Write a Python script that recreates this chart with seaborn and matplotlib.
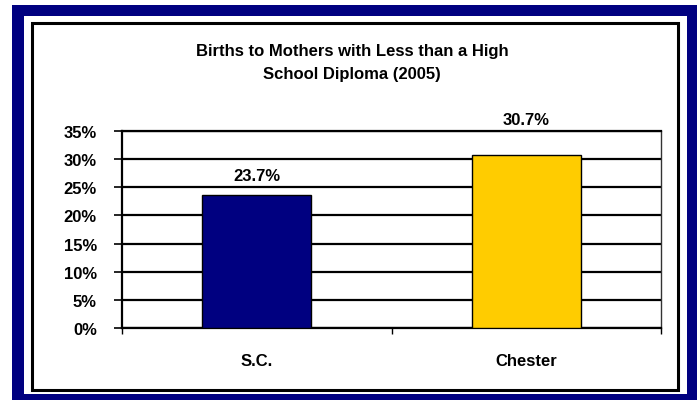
import numpy as np
import matplotlib.pyplot as plt
import matplotlib.patches as mpatches
import seaborn as sns

# Datos
categorias = ["S.C.", "Chester"]
valores = [23.7, 30.7]
colores = ["#000080", "#FFCC00"]
ticks_y = [0, 5, 10, 15, 20, 25, 30, 35]
titulo = "Births to Mothers with Less than a High\nSchool Diploma (2005)"

W, H = 699, 402
sns.set_style("white")
plt.rcParams['font.family'] = ['Liberation Sans', 'DejaVu Sans']
plt.rcParams['text.color'] = 'black'
plt.rcParams['xtick.color'] = 'black'
plt.rcParams['ytick.color'] = 'black'

fig = plt.figure(figsize=(W / 100, H / 100), dpi=100)

def caja(x0, y0, x1, y1, **kw):
    # rectangulo en pixeles (origen arriba a la izquierda)
    return mpatches.Rectangle((x0 / W, 1 - y1 / H), (x1 - x0) / W, (y1 - y0) / H,
                              transform=fig.transFigure, **kw)

# Marco azul, fondo blanco y borde negro
fig.patches.append(caja(12, 6, 697, 401, facecolor="#000080", edgecolor="none", zorder=-3))
fig.patches.append(caja(24, 17, 687, 395, facecolor="white", edgecolor="none", zorder=-2))
fig.patches.append(caja(32, 24, 678, 391, facecolor="none", edgecolor="black", linewidth=2.2, zorder=-1))

ax = fig.add_axes([122 / W, 1 - 329 / H, (661 - 122) / W, (329 - 132) / H])
ax.set_zorder(5)
ax.set_facecolor("white")

sns.barplot(x=categorias, y=valores, hue=categorias, palette=colores, legend=False, saturation=1,
            width=0.405, edgecolor="black", linewidth=1, ax=ax, zorder=3)

ax.set_ylim(0, 35)
ax.set_xlim(-0.5, 1.5)
ax.set_yticks(ticks_y)
ax.set_yticklabels([f"{t}%" for t in ticks_y], fontsize=12, fontweight="bold")
ax.yaxis.grid(True, color="black", linewidth=1.6)
ax.set_axisbelow(True)

# Etiquetas de valores
desplaz = [14, 26]
for i, v in enumerate(valores):
    ax.annotate(f"{v:.1f}%", (i, v), xytext=(0, desplaz[i]), textcoords="offset points",
                ha="center", va="center", fontsize=12, fontweight="bold", annotation_clip=False)

# Ejes
ax.tick_params(axis="y", which="major", left=True, direction="out", length=6, width=1.2,
               color="black", pad=12)
ax.set_xticks(range(len(categorias)))
ax.set_xticklabels(categorias, fontsize=12, fontweight="bold")
ax.set_xticks([-0.5, 0.5, 1.5], minor=True)
ax.tick_params(axis="x", which="major", length=0, pad=18)
ax.tick_params(axis="x", which="minor", bottom=True, direction="out", length=4, width=1, color="black")
ax.set_xlabel("")
ax.set_ylabel("")
for s in ["left", "bottom", "top"]:
    ax.spines[s].set_color("black")
    ax.spines[s].set_linewidth(1.6)
ax.spines["right"].set_color("#333333")
ax.spines["right"].set_linewidth(1)

fig.text(352 / W, 1 - 63 / H, titulo, ha="center", va="center", multialignment="center",
         fontsize=12, fontweight="bold", linespacing=1.65)

plt.savefig("out.png", dpi=100)
